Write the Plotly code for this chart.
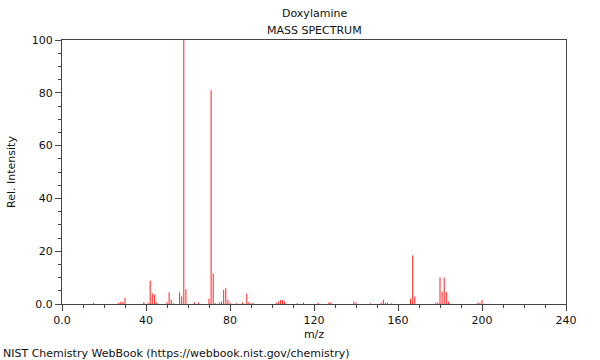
import plotly.graph_objects as go

mz = [15, 27, 28, 29, 30, 39, 41, 42, 43, 44, 45, 50, 51, 52, 53, 56, 57, 58, 59,
      63, 65, 70, 71, 72, 73, 75, 76, 77, 78, 79, 80, 83, 86, 88, 89, 90, 91,
      102, 103, 104, 105, 106, 112, 115, 122, 127, 128, 139, 140, 147, 152, 153,
      154, 155, 157, 166, 167, 168, 178, 179, 180, 181, 182, 183, 184, 198, 199, 200]
intensity = [0.4, 0.5, 0.8, 0.8, 2.4, 0.7, 0.4, 8.8, 4.0, 3.5, 0.5, 0.7, 4.4, 1.6, 0.3,
             4.4, 2.9, 100, 5.6, 0.7, 0.5, 2.0, 81, 11.5, 0.3, 0.5, 1.0, 5.3, 6.1, 1.6,
             0.5, 0.3, 0.6, 3.9, 0.7, 0.3, 0.4, 0.5, 1.0, 1.5, 1.5, 1.0, 0.3, 0.5, 0.5,
             0.5, 0.6, 0.9, 0.5, 0.3, 0.5, 1.6, 0.5, 0.5, 0.3, 2.0, 18.4, 2.8, 0.5, 0.5,
             10.1, 4.7, 10.0, 4.5, 0.9, 0.5, 0.5, 1.5]

x_ticks = [0, 40, 80, 120, 160, 200, 240]
x_labels = ["0.0", "40", "80", "120", "160", "200", "240"]
y_ticks = [0, 20, 40, 60, 80, 100]
y_labels = ["0.0", "20", "40", "60", "80", "100"]

xs, ys = [], []
for m, v in zip(mz, intensity):
    xs += [m, m, None]
    ys += [0, v, None]

FONT = "DejaVu Sans"
fig = go.Figure()
fig.add_trace(go.Scatter(x=xs, y=ys, mode="lines",
                         line=dict(color="#ff2020", width=1),
                         hoverinfo="skip", showlegend=False))

axis_common = dict(showline=True, linecolor="#444", linewidth=1, mirror=True,
                   showgrid=False, zeroline=False, ticks="outside", automargin=False,
                   ticklen=6, tickcolor="#444", tickfont=dict(family=FONT, size=11, color="#111"))

fig.update_layout(
    width=600, height=360,
    margin=dict(l=62, r=34, t=40, b=56),
    paper_bgcolor="white", plot_bgcolor="white",
    font=dict(family=FONT, size=11, color="#111"),
    xaxis=dict(range=[0, 240], tickmode="array", tickvals=x_ticks, ticktext=x_labels,
               minor=dict(tick0=0, dtick=10, ticklen=3, ticks="outside", tickcolor="#444"),
               title=dict(text="m/z", font=dict(family=FONT, size=11), standoff=4),
               **axis_common),
    yaxis=dict(range=[0, 100], tickmode="array", tickvals=y_ticks, ticktext=y_labels,
               minor=dict(tick0=0, dtick=5, ticklen=3, ticks="outside", tickcolor="#444"),
               title=dict(text="Rel. Intensity", font=dict(family=FONT, size=11), standoff=13),
               **axis_common),
    annotations=[
        dict(text="Doxylamine", xref="paper", yref="paper", x=0.5, y=1, yshift=27,
             showarrow=False, xanchor="center", yanchor="middle",
             font=dict(family=FONT, size=11)),
        dict(text="MASS SPECTRUM", xref="paper", yref="paper", x=0.5, y=1, yshift=10,
             showarrow=False, xanchor="center", yanchor="middle",
             font=dict(family=FONT, size=11)),
        dict(text="NIST Chemistry WebBook (https://webbook.nist.gov/chemistry)",
             xref="paper", yref="paper", x=0, xshift=-61, y=0, yshift=-49,
             showarrow=False, xanchor="left", yanchor="middle",
             font=dict(family=FONT, size=11)),
    ],
)

fig.write_html("out.html", config={"displayModeBar": False},
               post_script="document.body.style.margin='0';document.body.style.overflow='hidden';")
